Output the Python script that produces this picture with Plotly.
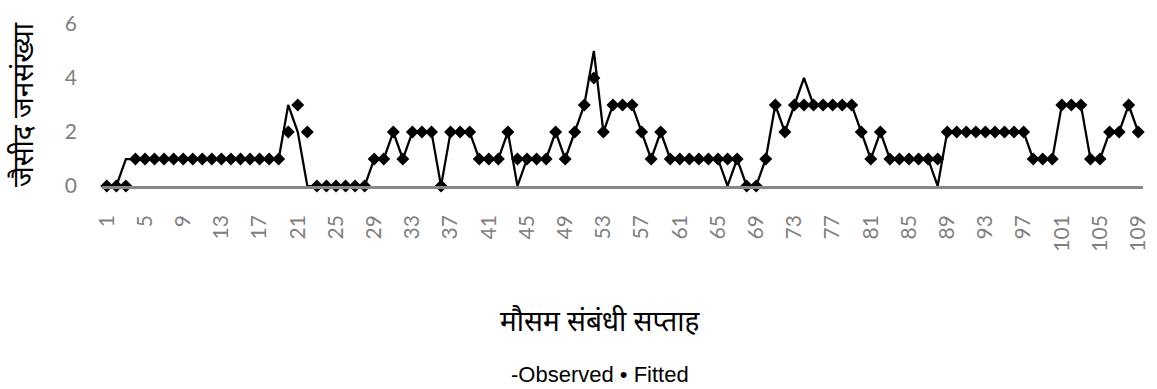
import plotly.graph_objects as go

weeks = list(range(1, 110))

observed = [0, 0, 1] + [1] * 16 + [3, 2, 0] + [0] * 6 + [1, 1] + \
    [2, 1, 2, 2, 2, 0, 2, 2, 2, 1, 1, 1, 2, 0, 1, 1, 1, 2, 1, 2, 3, 5, 2, 3, 3, 3, 2, 1, 2, 1] + \
    [1, 1, 1, 1, 1, 0, 1] + [0, 0] + \
    [1, 3, 2, 3, 4, 3, 3, 3, 3, 3, 2, 1, 2] + [1, 1, 1, 1, 1, 0] + \
    [2] * 9 + [1, 1, 1] + [3, 3, 3] + [1, 1] + [2, 2] + [3, 2]

fitted = [0, 0, 0] + [1] * 16 + [2, 3, 2] + [0] * 6 + [1, 1] + \
    [2, 1, 2, 2, 2, 0, 2, 2, 2, 1, 1, 1, 2, 1, 1, 1, 1, 2, 1, 2, 3, 4, 2, 3, 3, 3, 2, 1, 2, 1] + \
    [1, 1, 1, 1, 1, 1, 1] + [0, 0] + \
    [1, 3, 2, 3, 3, 3, 3, 3, 3, 3, 2, 1, 2] + [1, 1, 1, 1, 1, 1] + \
    [2] * 9 + [1, 1, 1] + [3, 3, 3] + [1, 1] + [2, 2] + [3, 2]

x_ticks = list(range(1, 110, 4))
y_ticks = [0, 2, 4, 6]

fig = go.Figure()
fig.add_trace(go.Scatter(x=weeks, y=observed, mode="lines", name="Observed",
                         line=dict(color="black", width=2.25), cliponaxis=False))
fig.add_trace(go.Scatter(x=weeks, y=fitted, mode="markers", name="Fitted",
                         marker=dict(symbol="diamond", size=10, color="black"),
                         cliponaxis=False))

tick_font = dict(family="Lato, sans-serif", size=21, color="#808080")

PL, PR, PT, PB = 102, 1149, 24, 186
ph = PB - PT
pw = PR - PL

fig.update_layout(
    width=1157, height=389,
    margin=dict(l=PL, r=1157 - PR, t=PT, b=389 - PB),
    plot_bgcolor="white", paper_bgcolor="white",
    showlegend=False,
    xaxis=dict(
        range=[0.5, 109.5], tickvals=x_ticks, ticktext=[str(t) for t in x_ticks],
        tickangle=-90, tickfont=tick_font, showgrid=False, zeroline=False,
        showline=True, linecolor="#878787", linewidth=2.5, ticks="",
        ticklabelstandoff=18, ticklabeloverflow="allow",
    ),
    yaxis=dict(
        range=[0, 6], tickvals=y_ticks, tickfont=tick_font, showgrid=False,
        zeroline=False, showline=False, ticks="", ticklabelstandoff=24,
        title=dict(text="जैसीद जनसंख्या",
                   font=dict(family="Noto Sans, sans-serif", size=28, color="black"),
                   standoff=23),
    ),
    annotations=[
        dict(text="मौसम संबंधी सप्ताह", xref="paper", yref="paper",
             x=(603 - PL) / pw, y=(PB - 320) / ph, xanchor="center", yanchor="middle",
             showarrow=False,
             font=dict(family="Noto Sans, sans-serif", size=28, color="black")),
        dict(text="-Observed • Fitted", xref="paper", yref="paper",
             x=(603 - PL) / pw, y=(PB - 374) / ph, xanchor="center", yanchor="middle",
             showarrow=False,
             font=dict(family="Liberation Sans, Arial, sans-serif", size=22, color="black")),
    ],
)

fig.write_html("out.html")
